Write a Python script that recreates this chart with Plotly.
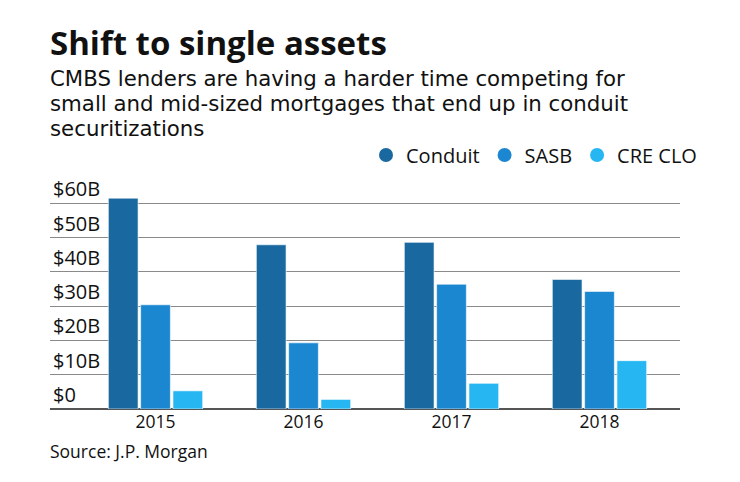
import plotly.graph_objects as go

years = ["2015", "2016", "2017", "2018"]
conduit = [61.5, 47.9, 48.6, 37.8]
sasb = [30.4, 19.3, 36.4, 34.3]
cre_clo = [5.3, 2.8, 7.5, 14.1]
series_names = ["Conduit", "SASB", "CRE CLO"]
colors = ["#1a68a0", "#1c87d1", "#26b7f2"]
y_ticks = [0, 10, 20, 30, 40, 50, 60]
y_tick_labels = ["$0", "$10B", "$20B", "$30B", "$40B", "$50B", "$60B"]

FONT = "Open Sans"
SUB_FONT = "DejaVu Sans"
OFF = 8  # page body margin offset
YMAX = 63
PX_PER_UNIT = 34.33 / 10
BOTTOM = 409.3 - OFF
TOP = BOTTOM - YMAX * PX_PER_UNIT
PLOT_H = BOTTOM - TOP
LEFT, RIGHT = 50 - OFF, 680 - OFF
PLOT_W = RIGHT - LEFT


def py(ypix):
    return (BOTTOM - (ypix - OFF)) / PLOT_H


def px(xpix):
    return ((xpix - OFF) - LEFT) / PLOT_W


fig = go.Figure()
for name, vals, col in zip(series_names, [conduit, sasb, cre_clo], colors):
    fig.add_trace(go.Bar(x=years, y=vals, name=name, marker_color=col,
                         marker_line=dict(color="rgba(255,255,255,0.6)", width=1),
                         showlegend=False, hoverinfo="x+y"))
for name, col in zip(series_names, colors):
    fig.add_trace(go.Scatter(x=[None], y=[None], mode="markers", name=name,
                             marker=dict(symbol="circle", size=14, color=col)))

fig.update_layout(
    width=740, height=482,
    margin=dict(l=LEFT, r=740 - RIGHT, t=TOP, b=482 - BOTTOM, autoexpand=False),
    paper_bgcolor="white", plot_bgcolor="white",
    barmode="group", bargap=0.345, bargroupgap=0.08,
    font=dict(family=FONT, color="#111111"),
    legend=dict(orientation="h", x=px(702), xanchor="right", y=py(155), yanchor="middle",
                font=dict(size=20, color="#111111"), itemwidth=30, tracegroupgap=0),
    xaxis=dict(type="category", range=[-0.713, 3.544], showgrid=False, automargin=False,
               showline=False, ticks="", tickfont=dict(size=17.5, color="#111111")),
    yaxis=dict(range=[0, YMAX], tickvals=y_ticks, ticktext=y_tick_labels, automargin=False,
               ticklabelposition="inside top", ticklabeloverflow="allow",
               showgrid=True, gridcolor="#8a8a8a",
               gridwidth=1, zeroline=True, zerolinecolor="#555555", zerolinewidth=1.5,
               tickfont=dict(size=20, color="#111111"), showline=False),
)

fig.add_annotation(text="<b>Shift to single assets</b>", xref="paper", yref="paper",
                   x=px(48), y=py(42), xanchor="left", yanchor="middle",
                   showarrow=False, font=dict(size=33, color="#111111", family=FONT))
subtitle = ["CMBS lenders are having a harder time competing for",
            "small and mid-sized mortgages that end up in conduit",
            "securitizations"]
for i, line in enumerate(subtitle):
    fig.add_annotation(text=line, xref="paper", yref="paper",
                       x=px(48), y=py(78 + 25 * i),
                       xanchor="left", yanchor="middle", showarrow=False,
                       font=dict(size=21.3, color="#111111", family=SUB_FONT))
fig.add_annotation(text="Source: J.P. Morgan", xref="paper", yref="paper",
                   x=px(48), y=py(451), xanchor="left", yanchor="middle",
                   showarrow=False, font=dict(size=17.5, color="#111111", family=FONT))

fig.write_html("out.html")
